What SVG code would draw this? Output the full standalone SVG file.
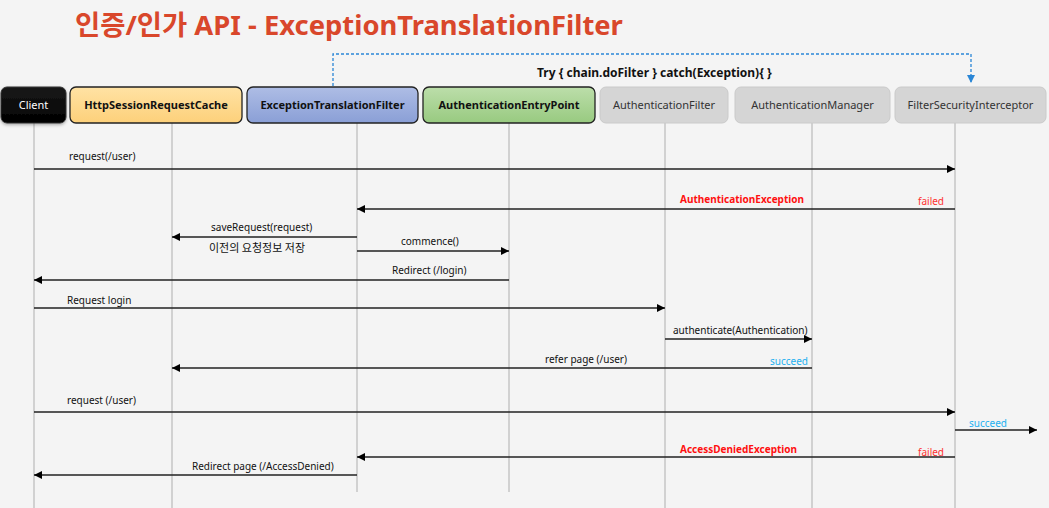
<svg xmlns="http://www.w3.org/2000/svg" width="1049" height="508" viewBox="0 0 1049 508">
<style>
.title{font-family:"Noto Sans","Noto Sans CJK KR",sans-serif;font-weight:bold;font-size:27.4px;fill:#d9472b}
.hb{font-family:"Noto Sans",sans-serif;font-weight:bold;font-size:11px;fill:#111;text-anchor:middle}
.hn{font-family:"Noto Sans",sans-serif;font-size:11px;fill:#333;text-anchor:middle}
.m{font-family:"Noto Sans","Noto Sans CJK KR",sans-serif;font-size:10px;fill:#111}
.kr{font-family:"Noto Sans CJK KR",sans-serif;font-size:11px;fill:#111}
.ex{font-family:"Noto Sans",sans-serif;font-weight:bold;font-size:10px;fill:#ff1010}
.fail{font-family:"Noto Sans",sans-serif;font-size:10px;fill:#ff3030}
.ok{font-family:"Noto Sans",sans-serif;font-size:10px;fill:#22b0f0}
.life{stroke:#c6c6c6;stroke-width:1.5;fill:none}
.msg{stroke:#222;stroke-width:1.5;fill:none}
.cbox{stroke:#222;stroke-width:1.3}
.gbox{fill:#d5d5d5;stroke:#cacaca;stroke-width:1}
</style>
<defs>
<marker id="ah" viewBox="0 0 10 10" refX="10" refY="5" markerWidth="9" markerHeight="8" markerUnits="userSpaceOnUse" orient="auto">
<path d="M0,0 L10,5 L0,10 z" fill="#000"/>
</marker>
<marker id="ahb" viewBox="0 0 10 10" refX="10" refY="5" markerWidth="8" markerHeight="8" markerUnits="userSpaceOnUse" orient="auto">
<path d="M0,0 L10,5 L0,10 z" fill="#2a86d6"/>
</marker>
<linearGradient id="gy" x1="0" y1="0" x2="0" y2="1"><stop offset="0" stop-color="#ffe2a4"/><stop offset="1" stop-color="#fdd07a"/></linearGradient>
<linearGradient id="gb" x1="0" y1="0" x2="0" y2="1"><stop offset="0" stop-color="#aebde5"/><stop offset="1" stop-color="#8a9fd6"/></linearGradient>
<linearGradient id="gg" x1="0" y1="0" x2="0" y2="1"><stop offset="0" stop-color="#bcdeaa"/><stop offset="1" stop-color="#98ca80"/></linearGradient>
<linearGradient id="gk" x1="0" y1="0" x2="0" y2="1"><stop offset="0" stop-color="#1a1a1a"/><stop offset="1" stop-color="#000"/></linearGradient>
<filter id="sh" x="-20%" y="-20%" width="140%" height="150%"><feDropShadow dx="0" dy="1.5" stdDeviation="1.5" flood-color="#000" flood-opacity="0.3"/></filter>
</defs>
<rect width="1049" height="508" fill="#f4f4f4"/>
<text class="title" x="75" y="35">인증/인가 API - ExceptionTranslationFilter</text>

<g id="lifelines">
<line class="life" x1="34" y1="123" x2="34" y2="508"/>
<line class="life" x1="172" y1="123" x2="172" y2="508"/>
<line class="life" x1="357" y1="123" x2="357" y2="492"/>
<line class="life" x1="509" y1="123" x2="509" y2="492"/>
<line class="life" x1="665" y1="123" x2="665" y2="508"/>
<line class="life" x1="812" y1="123" x2="812" y2="508"/>
<line class="life" x1="955" y1="123" x2="955" y2="508"/>
</g>

<g id="node-client"><rect x="1" y="87" width="65" height="36" rx="6" fill="url(#gk)" stroke="#333" filter="url(#sh)"/><text x="33.5" y="109" font-family="Noto Sans,sans-serif" font-size="11" fill="#fff" text-anchor="middle">Client</text></g>
<g id="node-cache"><rect class="cbox" x="70" y="87" width="172" height="36" rx="6" fill="url(#gy)"/><text class="hb" x="156" y="109">HttpSessionRequestCache</text></g>
<g id="node-etf"><rect class="cbox" x="247" y="87" width="171" height="36" rx="6" fill="url(#gb)"/><text class="hb" x="332.5" y="109">ExceptionTranslationFilter</text></g>
<g id="node-aep"><rect class="cbox" x="423" y="87" width="172" height="36" rx="6" fill="url(#gg)"/><text class="hb" x="509" y="109">AuthenticationEntryPoint</text></g>
<g id="node-af"><rect class="gbox" x="600" y="87" width="128" height="36" rx="6"/><text class="hn" x="664" y="109">AuthenticationFilter</text></g>
<g id="node-am"><rect class="gbox" x="735" y="87" width="155" height="36" rx="6"/><text class="hn" x="812.5" y="109">AuthenticationManager</text></g>
<g id="node-fsi"><rect class="gbox" x="895" y="87" width="151" height="36" rx="6"/><text class="hn" x="970.5" y="109">FilterSecurityInterceptor</text></g>

<g id="connectors">
<path d="M333,86 V54 H971 V83" fill="none" stroke="#2a86d6" stroke-width="1.3" stroke-dasharray="3,2" marker-end="url(#ahb)"/>
<line class="msg" x1="34" y1="169" x2="955" y2="169" marker-end="url(#ah)"/>
<line class="msg" x1="955" y1="209" x2="357" y2="209" marker-end="url(#ah)"/>
<line class="msg" x1="357" y1="237" x2="172" y2="237" marker-end="url(#ah)"/>
<line class="msg" x1="357" y1="251" x2="509" y2="251" marker-end="url(#ah)"/>
<line class="msg" x1="509" y1="280" x2="34" y2="280" marker-end="url(#ah)"/>
<line class="msg" x1="34" y1="308" x2="665" y2="308" marker-end="url(#ah)"/>
<line class="msg" x1="665" y1="339" x2="812" y2="339" marker-end="url(#ah)"/>
<line class="msg" x1="812" y1="368" x2="172" y2="368" marker-end="url(#ah)"/>
<line class="msg" x1="34" y1="412" x2="955" y2="412" marker-end="url(#ah)"/>
<line class="msg" x1="955" y1="430" x2="1037" y2="430" marker-end="url(#ah)"/>
<line class="msg" x1="955" y1="457" x2="357" y2="457" marker-end="url(#ah)"/>
<line class="msg" x1="357" y1="475" x2="34" y2="475" marker-end="url(#ah)"/>
</g>

<g id="labels">
<text x="537" y="77" font-family="Noto Sans,sans-serif" font-weight="bold" font-size="12" fill="#111">Try { chain.doFilter } catch(Exception){ }</text>
<text class="m" x="69" y="160">request(/user)</text>
<text class="ex" x="680" y="203">AuthenticationException</text>
<text class="fail" x="918" y="205">failed</text>
<text class="m" x="211" y="231">saveRequest(request)</text>
<text class="kr" x="209" y="252">이전의 요청정보 저장</text>
<text class="m" x="401" y="245">commence()</text>
<text class="m" x="392" y="274">Redirect (/login)</text>
<text class="m" x="67" y="304">Request login</text>
<text class="m" x="673" y="334">authenticate(Authentication)</text>
<text class="m" x="545" y="363">refer page (/user)</text>
<text class="ok" x="770" y="365">succeed</text>
<text class="m" x="67" y="404">request (/user)</text>
<text class="ok" x="969" y="427">succeed</text>
<text class="ex" x="680" y="453">AccessDeniedException</text>
<text class="fail" x="918" y="456">failed</text>
<text class="m" x="192" y="470">Redirect page (/AccessDenied)</text>
</g>
</svg>
